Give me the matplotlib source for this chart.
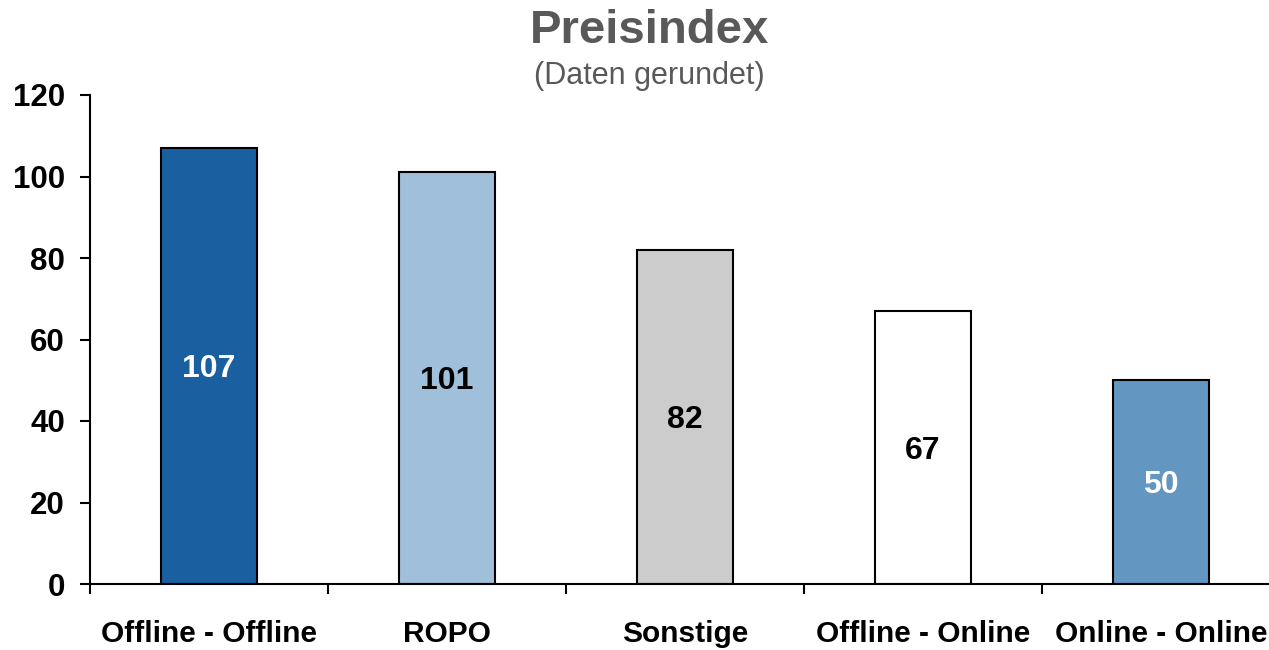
import matplotlib.pyplot as plt
import numpy as np

plt.rcParams['font.family'] = ['Liberation Sans', 'DejaVu Sans']

kategorien = ["Offline - Offline", "ROPO", "Sonstige", "Offline - Online", "Online - Online"]
werte = [107, 101, 82, 67, 50]
farben = ["#1a5fa0", "#9fbfdb", "#cccccc", "#ffffff", "#6397c2"]
textfarben = ["white", "black", "black", "black", "white"]

fig = plt.figure(figsize=(12.69, 6.5), dpi=100)
ax = fig.add_axes([90 / 1269, 66 / 650, 1190 / 1269, 489 / 650])

x = np.arange(len(kategorien))
bars = ax.bar(x, werte, 0.4, color=farben, edgecolor="black", linewidth=1.5, zorder=2)

for b, w, tc in zip(bars, werte, textfarben):
    ax.text(b.get_x() + b.get_width() / 2, w / 2 - 0.8, str(w), ha="center", va="center",
            fontsize=23, fontweight="bold", color=tc)

ax.set_xlim(-0.5, 4.5)
ax.set_ylim(0, 120)
ax.set_yticks(np.arange(0, 121, 20))
ax.tick_params(axis="y", labelsize=22.5, width=1.5, length=7, pad=11)
for lab in ax.get_yticklabels():
    lab.set_fontweight("bold")

# Striche zwischen den Kategorien, Beschriftungen in der Mitte
ax.set_xticks(np.arange(-0.5, 4.6, 1.0))
ax.set_xticklabels([])
ax.tick_params(axis="x", which="major", width=1.5, length=7)
ax.set_xticks(x, minor=True)
ax.set_xticklabels(kategorien, minor=True, fontsize=21.5, fontweight="bold")
ax.tick_params(axis="x", which="minor", length=0, pad=26)

ax.spines["top"].set_visible(False)
ax.spines["right"].set_visible(False)
ax.spines["left"].set_linewidth(1.5)
ax.spines["bottom"].set_linewidth(1.5)

fig.text(0.512, 0.952, "Preisindex", ha="center", va="center", fontsize=34,
         fontweight="bold", color="#595959")
fig.text(0.512, 0.883, "(Daten gerundet)", ha="center", va="center", fontsize=22,
         color="#595959")

fig.savefig("out.png", dpi=100)
